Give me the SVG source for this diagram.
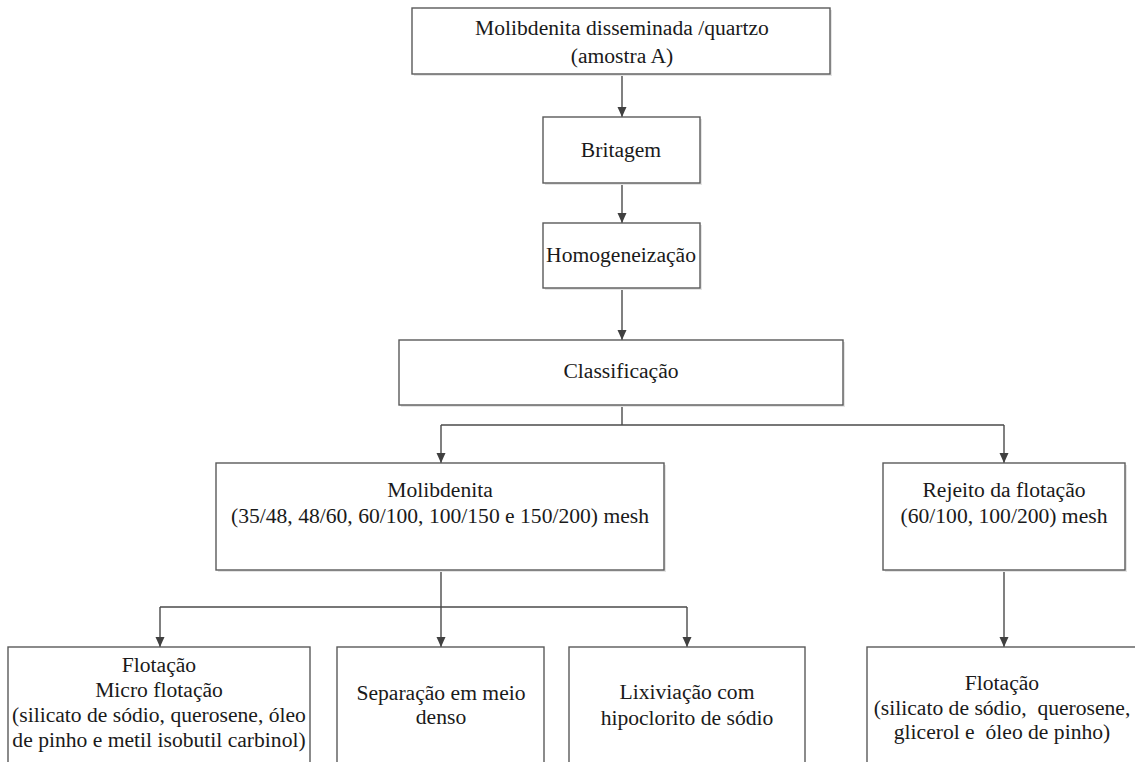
<svg xmlns="http://www.w3.org/2000/svg" width="1135" height="762" viewBox="0 0 1135 762">
<defs>
<style>
.box{fill:#fff;stroke:#5a5a5a;stroke-width:1.4}
.sh{fill:#e4e4e4;stroke:none}
.t{font-family:'Liberation Serif','DejaVu Serif','Times New Roman',serif;font-size:21.6px;fill:#1a1a1a;text-anchor:middle}
.c{fill:none;stroke:#4a4a4a;stroke-width:1.4}
</style>
<marker id="ah" markerUnits="userSpaceOnUse" markerWidth="12" markerHeight="12" viewBox="0 0 12 12" refX="10" refY="6" orient="auto">
<path d="M0,1.5 L10,6 L0,10.5 Z" fill="#404040"/>
</marker>
</defs>
<rect width="1135" height="762" fill="#fff"/>
<g id="connectors">
<path class="c" d="M622,74 V117" marker-end="url(#ah)"/>
<path class="c" d="M622,183 V223" marker-end="url(#ah)"/>
<path class="c" d="M622,288 V340" marker-end="url(#ah)"/>
<path class="c" d="M622,405 V425"/>
<path class="c" d="M441,425 H1004"/>
<path class="c" d="M441,425 V463" marker-end="url(#ah)"/>
<path class="c" d="M1004,425 V463" marker-end="url(#ah)"/>
<path class="c" d="M441,570 V647" marker-end="url(#ah)"/>
<path class="c" d="M160,607 H687"/>
<path class="c" d="M160,607 V647" marker-end="url(#ah)"/>
<path class="c" d="M687,607 V647" marker-end="url(#ah)"/>
<path class="c" d="M1004,570 V647" marker-end="url(#ah)"/>
</g>
<g id="n_molibdenita_disseminada">
<rect class="sh" x="414" y="10" width="418" height="66"/>
<rect class="box" x="412" y="8" width="418" height="66"/>
<text class="t" x="622" y="35">Molibdenita disseminada /quartzo</text>
<text class="t" x="622" y="63">(amostra A)</text>
</g>
<g id="n_britagem">
<rect class="sh" x="545" y="119" width="157" height="66"/>
<rect class="box" x="543" y="117" width="157" height="66"/>
<text class="t" x="621" y="157">Britagem</text>
</g>
<g id="n_homogeneizacao">
<rect class="sh" x="545" y="225" width="157" height="65"/>
<rect class="box" x="543" y="223" width="157" height="65"/>
<text class="t" x="621" y="262">Homogeneização</text>
</g>
<g id="n_classificacao">
<rect class="sh" x="401" y="342" width="444" height="65"/>
<rect class="box" x="399" y="340" width="444" height="65"/>
<text class="t" x="621" y="378">Classificação</text>
</g>
<g id="n_molibdenita_mesh">
<rect class="sh" x="218" y="465" width="448" height="107"/>
<rect class="box" x="216" y="463" width="448" height="107"/>
<text class="t" x="440" y="497">Molibdenita</text>
<text class="t" x="440" y="523">(35/48, 48/60, 60/100, 100/150 e 150/200) mesh</text>
</g>
<g id="n_rejeito">
<rect class="sh" x="885" y="465" width="242" height="107"/>
<rect class="box" x="883" y="463" width="242" height="107"/>
<text class="t" x="1004" y="497">Rejeito da flotação</text>
<text class="t" x="1004" y="523">(60/100, 100/200) mesh</text>
</g>
<g id="n_flotacao_micro">
<rect class="box" x="8" y="647" width="302" height="130"/>
<text class="t" x="159" y="672">Flotação</text>
<text class="t" x="159" y="697">Micro flotação</text>
<text class="t" x="159" y="722">(silicato de sódio, querosene, óleo</text>
<text class="t" x="159" y="747">de pinho e metil isobutil carbinol)</text>
</g>
<g id="n_separacao">
<rect class="box" x="337" y="647" width="207" height="130"/>
<text class="t" x="441" y="700">Separação em meio</text>
<text class="t" x="441" y="724">denso</text>
</g>
<g id="n_lixiviacao">
<rect class="box" x="569" y="647" width="236" height="130"/>
<text class="t" x="687" y="699">Lixiviação com</text>
<text class="t" x="687" y="725">hipoclorito de sódio</text>
</g>
<g id="n_flotacao_rejeito">
<rect class="box" x="867" y="647" width="280" height="130"/>
<text class="t" x="1002" y="690">Flotação</text>
<text class="t" x="1002" y="715" xml:space="preserve">(silicato de sódio,  querosene,</text>
<text class="t" x="1002" y="739" xml:space="preserve">glicerol e  óleo de pinho)</text>
</g>
</svg>
